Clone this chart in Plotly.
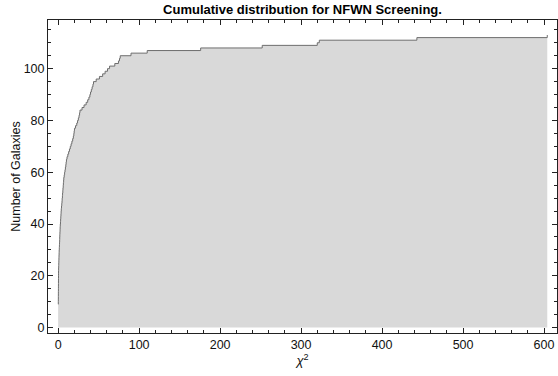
import numpy as np
import plotly.graph_objects as go

# Best-fit chi-squared value of each galaxy under NFWN screening (sorted)
chi2_values = [
    0.0, 0.0, 0.0, 0.0, 0.0, 0.0, 0.0, 0.0, 0.0,
    0.22, 0.25, 0.28, 0.30, 0.33, 0.36, 0.38, 0.40, 0.42, 0.44, 0.46, 0.48, 0.50,
    0.6, 0.7, 0.8, 0.9, 1.0, 1.1, 1.2, 1.3, 1.45, 1.6, 1.75, 1.9, 2.0, 2.1, 2.25, 2.4, 2.5,
    2.7, 2.9, 3.1, 3.3, 3.5, 3.7, 3.9, 4.2, 4.5,
    4.8, 5.0, 5.3, 5.5, 5.8, 6.0, 6.3, 6.5, 6.8, 7.0,
    7.5, 8.0, 8.5, 9.0, 9.5, 9.9, 10.3,
    11.0, 12.0, 13.0, 14.0, 15.0, 16.0, 17.0, 18.0, 18.8, 19.4,
    19.8, 20.2,
    21.5, 23.0, 24.0,
    25.0, 25.8, 26.5, 27.0,
    29.5, 32.0, 34.6,
    36.5, 38.0, 39.2, 40.0,
    41.0, 42.0, 43.0, 43.7,
    47.0, 51.0, 55.0,
    58.0, 61.0, 63.5,
    70.0,
    74.5, 75.8, 76.7,
    90.0,
    110.0,
    176.0,
    252.0,
    320.0, 322.5,
    443.0,
    604.0,
]

x_ticks = [0, 100, 200, 300, 400, 500, 600]
y_ticks = [0, 20, 40, 60, 80, 100]

# Cumulative count of galaxies with chi^2 <= x
vals = np.sort(np.array(chi2_values))
xs, counts = np.unique(vals, return_counts=True)
cum = np.cumsum(counts)

FONT = "Liberation Sans, Arial, sans-serif"
FRAME = "#222222"

fig = go.Figure()
fig.add_trace(go.Scatter(
    x=xs, y=cum,
    mode="lines",
    line=dict(shape="hv", color="#6e6e6e", width=1),
    fill="tozeroy",
    fillcolor="#d9d9d9",
    hoverinfo="x+y",
    showlegend=False,
))

axis_common = dict(
    showline=True, linecolor=FRAME, linewidth=1, mirror="allticks",
    ticks="inside", ticklen=5, tickwidth=1, tickcolor=FRAME,
    showgrid=False, zeroline=False,
    tickfont=dict(family=FONT, size=12.5, color="#111111"),
)

fig.update_xaxes(
    range=[-12.5, 616],
    tickvals=x_ticks,
    minor=dict(ticks="inside", dtick=20, tick0=0, ticklen=3, tickcolor=FRAME),
    title=dict(text="<i>χ</i><sup>2</sup>", font=dict(family=FONT, size=13, color="#111111"), standoff=1),
    **axis_common,
)
fig.update_yaxes(
    range=[-2.1, 118.8],
    tickvals=y_ticks,
    minor=dict(ticks="inside", dtick=5, tick0=0, ticklen=3, tickcolor=FRAME),
    title=dict(text="Number of Galaxies", font=dict(family=FONT, size=12.5, color="#111111"), standoff=0),
    **axis_common,
)

fig.update_layout(
    width=558, height=376,
    margin=dict(l=48, r=1, t=20, b=43),
    paper_bgcolor="white", plot_bgcolor="white",
    title=dict(
        text="<b>Cumulative distribution for NFWN Screening.</b>",
        font=dict(family=FONT, size=13, color="#000000"),
        x=0.5, xref="paper", xanchor="center",
        y=1 - 9.5 / 376, yref="container", yanchor="middle",
    ),
)

fig.write_html("out.html")
